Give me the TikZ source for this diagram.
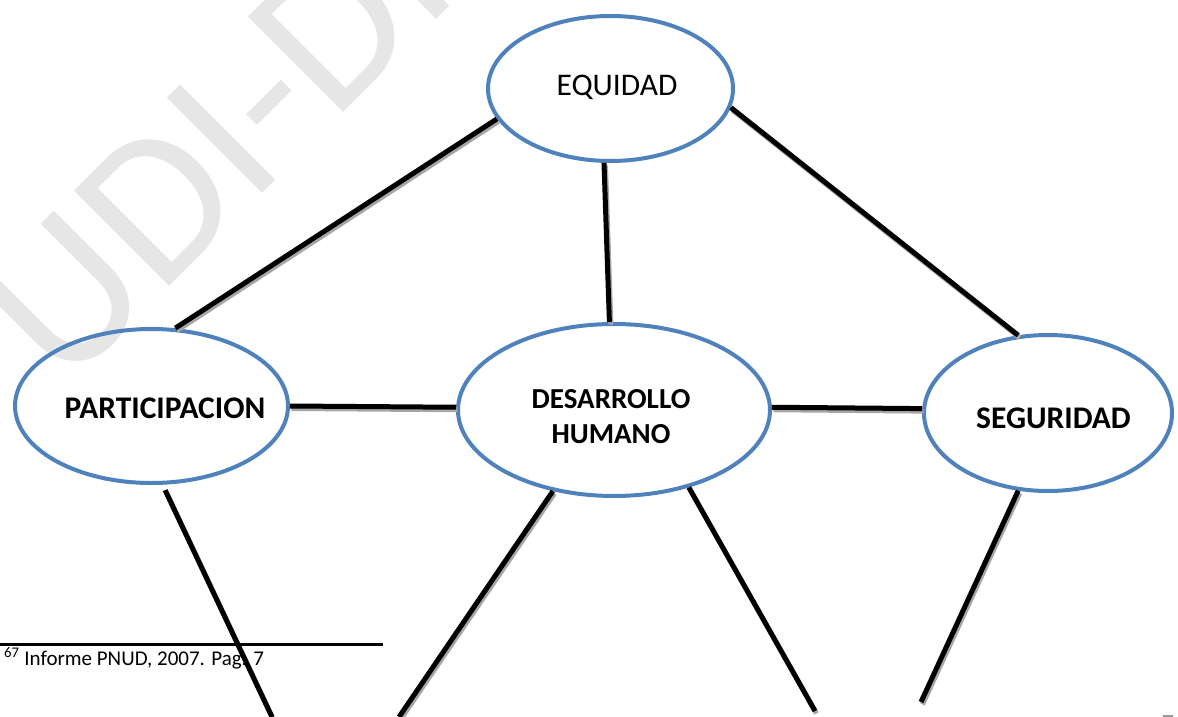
\documentclass[tikz,border=0pt]{standalone}
\usepackage{fontspec}
\setmainfont{Carlito}
\usepackage{xcolor}
\usepackage{tikz}
\usetikzlibrary{shapes.geometric, positioning}
\definecolor{ovalblue}{HTML}{4F81BD}
\definecolor{markgray}{HTML}{E6E6E6}

\begin{document}
\begin{tikzpicture}[x=1pt, y=-1pt,
  bubble/.style={ellipse, draw=ovalblue, line width=4pt, inner sep=0pt},
  word/.style={font=\fontsize{31.5}{36}\selectfont, inner sep=0pt},
  bigword/.style={font=\bfseries\fontsize{31.5}{36}\selectfont, inner sep=0pt},
  link/.style={line width=5pt, draw=black,
    preaction={draw=black!35, line width=5pt, transform canvas={xshift=1.5pt, yshift=-2.5pt}}}
]
  \useasboundingbox (0,0) rectangle (1178,717);
  \clip (0,0) rectangle (1178,717);

  \node[anchor=base west, rotate=45, inner sep=0pt, text=markgray,
    font=\fontsize{210}{210}\selectfont] (mark) at (64,392) {UDI-DI};

  \node[bubble, minimum width=245pt, minimum height=145pt,
    label={[word, xshift=6.5pt, yshift=1.5pt]center:EQUIDAD}] (equidad) at (610.5,88.5) {};
  \node[bubble, minimum width=273pt, minimum height=154pt,
    label={[bigword, xshift=13.5pt, yshift=-2pt]center:PARTICIPACION}] (part) at (151.5,406) {};
  \node[bubble, minimum width=312pt, minimum height=172pt,
    label={[bigword, font=\bfseries\fontsize{29}{35}\selectfont, align=center, xshift=-3pt, yshift=-6.5pt]center:DESARROLLO\\HUMANO}] (des) at (614,410) {};
  \node[bubble, minimum width=248pt, minimum height=156pt,
    label={[bigword, xshift=5.5pt, yshift=-5pt]center:SEGURIDAD}] (seg) at (1048,413) {};

  \coordinate (part-end) at (272,717);
  \coordinate (des-endl) at (399,717);
  \coordinate (des-endr) at (815,711);
  \coordinate (seg-end) at (921,702);

  \draw[link] (equidad.195) -- (part.73);
  \draw[link] (equidad.265) -- (des.93);
  \draw[link] (equidad.351) -- (seg.111);
  \draw[link] (part.0) -- (des.179);
  \draw[link] (des.1) -- (seg.178);
  \draw[link, shorten <=6pt] (part.278) -- (part-end);
  \draw[link] (des.233) -- (des-endl);
  \draw[link] (des.314) -- (des-endr);
  \draw[link] (seg.249) -- (seg-end);

  % footnote
  \draw[line width=3pt] (0,644) -- (383,644);
  \node[anchor=base west, inner sep=0pt, font=\fontsize{21}{25}\selectfont] (note) at (4,665)
    {\textsuperscript{67} Informe PNUD, 2007. Pag. 7};
  \draw[line width=1.5pt, black!40] (1163,716) -- (1173,716);
\end{tikzpicture}
\end{document}
